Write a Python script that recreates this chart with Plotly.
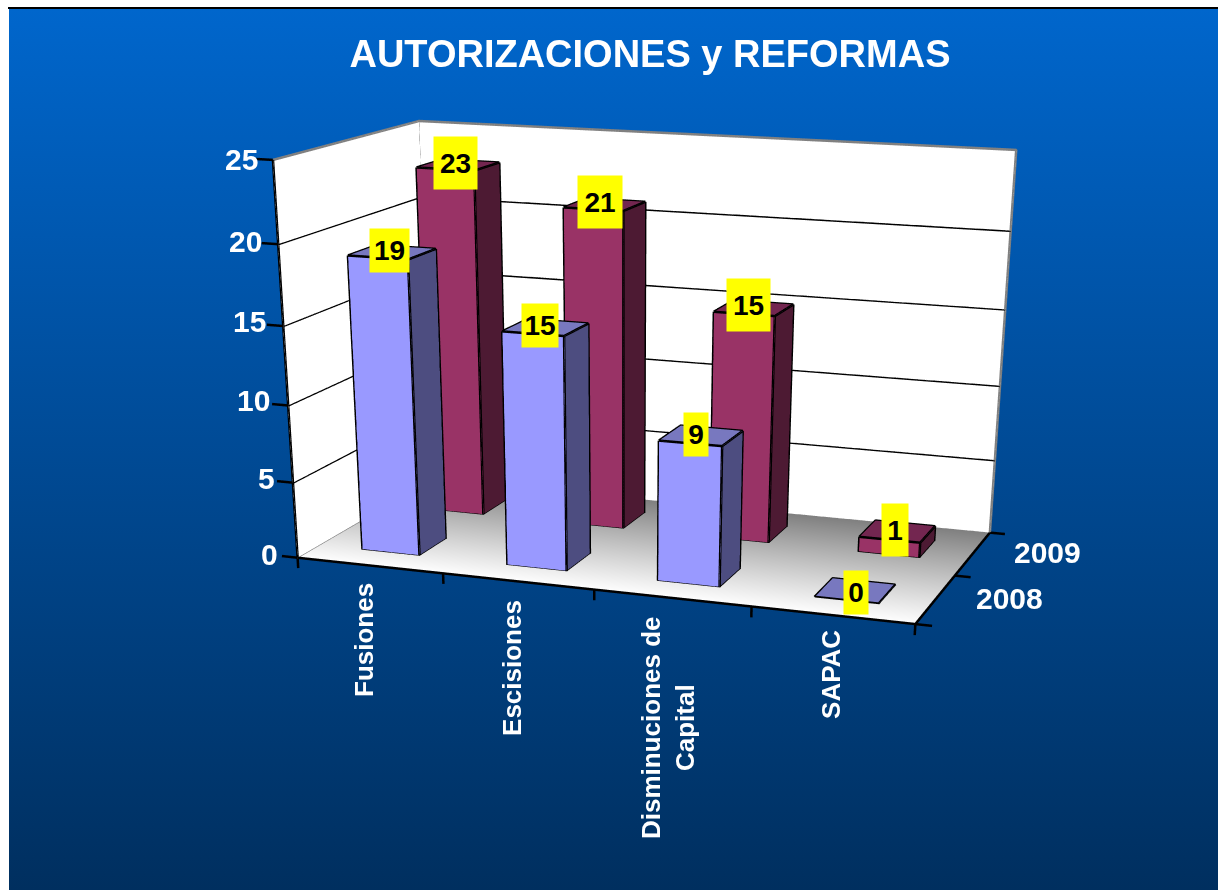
import plotly.graph_objects as go

W, H = 1218, 890

# ---- data
categories = ["Fusiones", "Escisiones", "Disminuciones de<br>Capital", "SAPAC"]
series_names = ["2008", "2009"]
values_2008 = [19, 15, 9, 0]
values_2009 = [23, 21, 15, 1]
z_ticks = [0, 5, 10, 15, 20, 25]

# ---- bar footprint, in category / series units
BAR_HALF_WIDTH = 0.1989
BAR_HALF_DEPTH = 0.1976

# ---- scene camera. plotly's 3D field of view is fixed, so the weak perspective of
# the original needs a tall scene; the page is clipped to the window below.
FIG_H = 1988.10
RX, RY, RZ = (-1, 5), (-1, 3), (-5, 30)
ASPECT = dict(x=1.78933, y=1.25200, z=1.0)
EYE = dict(x=1.47528, y=-4.27619, z=0.91739)
CENTER = dict(x=0.18891, y=-0.49072, z=-1.06151)
UP = dict(x=-0.14936, y=0.41775, z=0.8962)
SCENE_X = [0.08146, 1]

FONT = "Liberation Sans"
LIGHT = dict(ambient=1, diffuse=0, specular=0, roughness=1, fresnel=0)


def quads(qs, color=None, vc=None):
    X, Y, Z, I, J, K = [], [], [], [], [], []
    for q in qs:
        n = len(X)
        for a in q:
            X.append(a[0]); Y.append(a[1]); Z.append(a[2])
        I += [n, n]; J += [n + 1, n + 2]; K += [n + 2, n + 3]
    kw = dict(vertexcolor=vc) if vc else dict(color=color)
    return go.Mesh3d(x=X, y=Y, z=Z, i=I, j=J, k=K, flatshading=True, lighting=LIGHT,
                     hoverinfo="skip", showscale=False, **kw)


def lines(segs, color, width=5):
    X, Y, Z = [], [], []
    for s in segs:
        for a in s:
            X.append(a[0]); Y.append(a[1]); Z.append(a[2])
        X.append(None); Y.append(None); Z.append(None)
    return go.Scatter3d(x=X, y=Y, z=Z, mode="lines", line=dict(color=color, width=width),
                        hoverinfo="skip", showlegend=False)


fig = go.Figure()

# page background gradient
fig.add_trace(go.Scatter(x=[0, 1, 1, 0, 0], y=[0, 0, 1, 1, 0], mode="lines", line=dict(width=0), fill="toself",
                         fillgradient=dict(type="vertical", colorscale=[[0, "#002F5F"], [1, "#0066CC"]]),
                         hoverinfo="skip", showlegend=False))

n_cat = len(categories)
n_ser = len(series_names)
top = z_ticks[-1]
zf = -0.03

# floor and walls
fig.add_trace(quads([[(0, 0, zf), (n_cat, 0, zf), (n_cat, n_ser, zf), (0, n_ser, zf)]],
                    vc=["#FFFFFF", "#FFFFFF", "#808080", "#808080"]))
fig.add_trace(quads([[(0, 0, 0), (0, n_ser, 0), (0, n_ser, top), (0, 0, top)],
                     [(0, n_ser, 0), (n_cat, n_ser, 0), (n_cat, n_ser, top), (0, n_ser, top)]], color="#FFFFFF"))
fig.add_trace(lines([[(0, 0, v), (0, n_ser, v), (n_cat, n_ser, v)] for v in z_ticks[1:-1]], "#000000"))
fig.add_trace(lines([[(0, 0, top), (0, n_ser, top), (n_cat, n_ser, top), (n_cat, n_ser, 0), (0, n_ser, 0), (0, 0, 0)],
                     [(0, n_ser, top), (0, n_ser, 0)]], "#808080"))

# axes and ticks
axis_segs = [[(0, 0, 0), (0, 0, top)], [(0, 0, 0), (n_cat, 0, 0), (n_cat, n_ser, 0)]]
axis_segs += [[(0, 0, v), (-0.11, 0, v)] for v in z_ticks]
axis_segs += [[(i, 0, 0), (i, 0, -0.7)] for i in range(n_cat + 1)]
axis_segs += [[(n_cat, j, 0), (n_cat + 0.1, j, 0)] for j in range(n_ser + 1)]
fig.add_trace(lines(axis_segs, "#000000"))

# bars
series = [("#9999FF", "#4D4D80", "#7878BF", values_2008, 0.5),
          ("#993366", "#4D1A33", "#732650", values_2009, 1.5)]
for c_front, c_side, c_top, vals, yc in series:
    fr, si, to, ed = [], [], [], []
    for i, v in enumerate(vals):
        x0, x1 = i + 0.5 - BAR_HALF_WIDTH, i + 0.5 + BAR_HALF_WIDTH
        y0, y1 = yc - BAR_HALF_DEPTH, yc + BAR_HALF_DEPTH
        to.append([(x0, y0, v), (x1, y0, v), (x1, y1, v), (x0, y1, v)])
        ed.append([(x0, y0, v), (x1, y0, v), (x1, y1, v), (x0, y1, v), (x0, y0, v)])
        if v > 0:
            fr.append([(x0, y0, 0), (x1, y0, 0), (x1, y0, v), (x0, y0, v)])
            si.append([(x1, y0, 0), (x1, y1, 0), (x1, y1, v), (x1, y0, v)])
            ed.append([(x0, y0, v), (x0, y0, 0), (x1, y0, 0), (x1, y1, 0), (x1, y1, v)])
            ed.append([(x1, y0, 0), (x1, y0, v)])
    fig.add_trace(quads(fr, c_front))
    fig.add_trace(quads(si, c_side))
    fig.add_trace(quads(to, c_top))
    fig.add_trace(lines(ed, "#000000"))

# value labels, attached to the bars; offsets and box sizes in pixels
label_style = {
    (0, 0): (-2.8, 1.7, 39, 43), (0, 1): (-2.8, 2.0, 43, 52),
    (1, 0): (-5.7, 1.9, 36, 43), (1, 1): (-4.9, 2.6, 44, 52),
    (2, 0): (-5.2, 1.2, 24, 43), (2, 1): (-5.5, 3.1, 43, 52),
    (3, 0): (0.6, -1.7, 24, 43), (3, 1): (-2.6, 1.5, 26, 52),
}
scene_annotations = []
for j, vals in enumerate([values_2008, values_2009]):
    for i, v in enumerate(vals):
        xs, ys, bw, bh = label_style[(i, j)]
        scene_annotations.append(dict(
            x=i + 0.5, y=j + 0.5, z=v, text=f"<b>{v}</b>", showarrow=False, xanchor="center", yanchor="middle",
            xshift=xs, yshift=ys, bgcolor="#FFFF00", width=bw, height=bh, borderpad=0,
            font=dict(family=FONT, size=28, color="#000000")))


def page_label(t, cx, cy, size=30, angle=0):
    return dict(text=f"<b>{t}</b>", x=cx / W, y=1 - cy / FIG_H, xref="paper", yref="paper", showarrow=False,
                xanchor="center", yanchor="middle", textangle=angle,
                font=dict(family=FONT, size=size, color="#FFFFFF"))


annotations = []
for v, cx, cy in zip(z_ticks, [269, 266, 253, 249, 245, 241], [555, 479, 401, 322, 242, 160]):
    annotations.append(page_label(str(v), cx, cy))
for t, cx, cy in zip(series_names, [1009, 1047], [599, 553]):
    annotations.append(page_label(t, cx, cy))
for t, cx, cy in zip(categories, [364, 512, 668, 831], [640, 668, 728, 675]):
    annotations.append(page_label(t, cx, cy, size=26, angle=-90))

hidden = dict(visible=False)
fig.update_layout(
    width=W, height=FIG_H, margin=dict(l=0, r=0, t=0, b=0), autosize=False,
    paper_bgcolor="#FFFFFF", plot_bgcolor="rgba(0,0,0,0)", showlegend=False, hovermode=False,
    title=dict(text="<b>AUTORIZACIONES y REFORMAS</b>", x=650 / W, y=1 - 54 / FIG_H, xanchor="center", yanchor="middle",
               font=dict(family=FONT, size=38, color="#FFFFFF")),
    xaxis=dict(domain=[9 / W, 1], range=[0, 1], visible=False, fixedrange=True),
    yaxis=dict(domain=[1 - H / FIG_H, 1 - 9 / FIG_H], range=[0, 1], visible=False, fixedrange=True),
    shapes=[dict(type="line", xref="paper", yref="paper", x0=8 / W, x1=1, y0=1 - 8 / FIG_H, y1=1 - 8 / FIG_H,
                 line=dict(color="#000000", width=2))],
    annotations=annotations,
    scene=dict(
        domain=dict(x=SCENE_X, y=[0, 1]), bgcolor="rgba(0,0,0,0)", aspectmode="manual", aspectratio=ASPECT,
        xaxis=dict(range=list(RX), **hidden), yaxis=dict(range=list(RY), **hidden), zaxis=dict(range=list(RZ), **hidden),
        camera=dict(eye=EYE, center=CENTER, up=UP, projection=dict(type="perspective")),
        annotations=scene_annotations),
)
fig.write_html(
    "out.html", config=dict(displayModeBar=False),
    post_script="document.documentElement.style.cssText='margin:0;height:890px;overflow:hidden';"
                "document.body.style.cssText='margin:0;height:890px;overflow:hidden';")
